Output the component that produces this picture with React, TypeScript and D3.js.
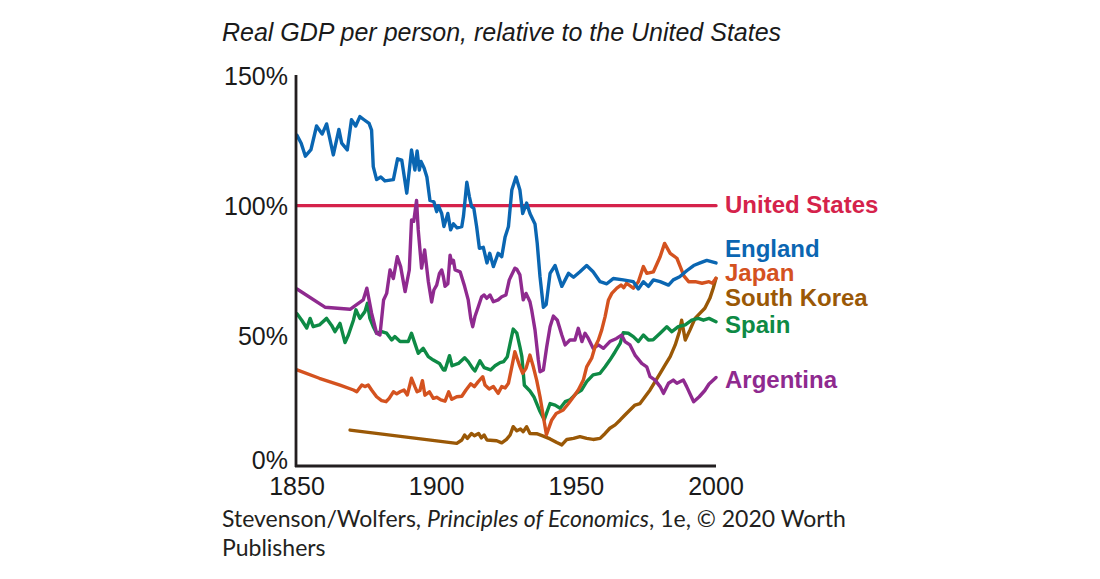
import React from "react";
import * as d3 from "d3";

type Pt = [number, number];

const yTicks = [0, 50, 100, 150];
const xTicks = [1850, 1900, 1950, 2000];

const titleText = "Real GDP per person, relative to the United States";

const usData: Pt[] = [[1850, 100], [2000, 100]];

const englandData: Pt[] = [
  [1850, 127], [1851.5, 124], [1853, 119], [1855, 121.5], [1857, 130.6], [1859, 127.5], [1860.6, 131.4],
  [1863, 119.5], [1865, 129.3], [1866, 124], [1868, 121.4], [1869.5, 133], [1871, 130.6], [1872.5, 134.2],
  [1874, 133], [1875.8, 131.6], [1876.7, 129], [1877.3, 115], [1878.5, 110], [1880, 111], [1881.5, 109.5],
  [1884.5, 110], [1886, 118], [1887.5, 117.5], [1889.3, 104.8], [1891, 121.4], [1892.2, 113.7], [1893, 121],
  [1893.8, 113.7], [1894.4, 117], [1895.5, 114.5], [1896.5, 111], [1897.6, 102], [1899, 101.5], [1900, 97.7],
  [1900.6, 100], [1901.8, 97], [1902.6, 92], [1904, 97], [1905, 90.7], [1906, 93], [1907.3, 91.5],
  [1909, 92], [1909.6, 96], [1910.8, 109], [1911.7, 103.5], [1912.5, 99.6], [1913.3, 99], [1914.3, 92],
  [1915.3, 83.6], [1916.7, 84], [1918, 78], [1919, 81.7], [1920.3, 76.6], [1922, 81.7], [1923.3, 80.4],
  [1924.5, 88], [1925.7, 92], [1926.9, 106], [1928.4, 111], [1929.8, 106], [1930.8, 97], [1932.2, 101],
  [1933.4, 97], [1935.2, 93], [1936, 85.5], [1937, 72.7], [1938.2, 61], [1939.2, 62], [1940.6, 74],
  [1942.4, 77], [1944.8, 69], [1947.2, 74], [1949, 72.5], [1951.3, 74.6], [1953.7, 77], [1956, 74.6],
  [1958.5, 70.8], [1960.9, 70], [1963.2, 72], [1966.8, 71.5], [1970.4, 70.8], [1972.2, 68], [1974, 70.8],
  [1975.8, 69], [1977.6, 71.5], [1980, 70.8], [1983, 69.5], [1984.7, 71.5], [1987, 72.7], [1989.5, 75],
  [1992, 77], [1994.3, 78], [1996.7, 79], [2000, 78],
];

const argentinaData: Pt[] = [
  [1850, 68], [1860, 61], [1869, 60.2], [1873.7, 63.8], [1875, 68.3], [1876.7, 58.7], [1878.5, 51],
  [1879.7, 50.3], [1881, 63.8], [1882.1, 66.3], [1883.3, 75.3], [1884.5, 72], [1885.9, 80.4], [1887.1, 76.6],
  [1888.7, 67], [1890.2, 75.3], [1891, 94.5], [1891.8, 94], [1892.8, 102], [1893.4, 90.7], [1894.6, 76],
  [1895.7, 83], [1897, 71], [1898.2, 63], [1899, 67.6], [1900, 69.5], [1901, 74], [1901.8, 75.3],
  [1902.4, 72.7], [1903, 69], [1904, 70], [1904.8, 81], [1905.4, 78], [1906, 79], [1906.6, 75.3],
  [1908.4, 74.6], [1910, 69], [1911.3, 63.8], [1912.2, 56.7], [1912.9, 53.5], [1913.7, 57.4], [1914.9, 61.2],
  [1916.1, 65], [1917, 65.7], [1917.9, 64.4], [1919.1, 65.7], [1920.3, 63.1], [1922, 63.8], [1923.3, 65],
  [1924.8, 65.7], [1926, 71.5], [1928, 76], [1928.7, 75.6], [1929.8, 73.4], [1931, 63.8], [1932, 66.3],
  [1933.4, 63.1], [1934, 60], [1935.2, 52.3], [1936.4, 40.7], [1937, 36.2], [1938.2, 36.9], [1939.4, 45.8],
  [1940.6, 53.5], [1941.8, 57.6], [1943.2, 56], [1944.8, 50.3], [1946, 46.5], [1947.7, 48.4], [1949.5, 48.4],
  [1950.7, 52.9], [1952, 47.8], [1953.1, 51], [1954.3, 49], [1956, 45.2], [1957.9, 46.5], [1959.7, 45.2],
  [1962, 47.8], [1964.4, 49], [1966.2, 50.3], [1967.4, 47.8], [1969.2, 46.5], [1971, 42.6], [1973.4, 39.4],
  [1975.2, 38.1], [1976.4, 34.3], [1978.2, 33], [1980, 30.5], [1981.2, 27.9], [1983, 31.8], [1984.7, 33],
  [1986, 31.8], [1988.3, 33], [1989.5, 30.5], [1992, 24.7], [1994, 26.6], [1996, 29], [1997.5, 31.5],
  [2000, 34],
];

const spainData: Pt[] = [
  [1850, 58.5], [1851.7, 56], [1853.5, 53], [1854.7, 56.7], [1855.8, 53.5], [1858, 54.2], [1860.6, 56.7],
  [1862.4, 54], [1863.6, 51.6], [1865.4, 54.8], [1867.2, 47.4], [1868.4, 50.3], [1870.2, 56], [1871.1, 60],
  [1872.5, 56.7], [1874.3, 59.3], [1875.2, 62.5], [1876.1, 56.7], [1877.3, 53.5], [1878.5, 51], [1880.3, 51.6],
  [1882.1, 51], [1883.9, 48.4], [1885, 49.7], [1886.9, 47.8], [1889.8, 47.8], [1891, 51], [1892.2, 47.1],
  [1893.4, 43.3], [1895.2, 45.2], [1897, 42], [1898.8, 40.7], [1901, 39.4], [1902.4, 36.9], [1903, 36.9],
  [1904.6, 42.4], [1905.5, 38.5], [1907.8, 39.4], [1910, 41.6], [1911.3, 40.1], [1912.9, 37.5], [1913.7, 36.5],
  [1915.5, 40.4], [1917, 37.8], [1919.3, 36.9], [1920.9, 38.5], [1922.7, 39.7], [1924, 40.1], [1925.3, 42],
  [1926.3, 47.1], [1927.4, 52.6], [1928.7, 51], [1929.8, 45.8], [1930.5, 42], [1931.4, 31], [1933.4, 28.8],
  [1934.9, 26.4], [1937, 20.9], [1938.5, 17.8], [1940.6, 24], [1942.4, 23.4], [1944.2, 22.2], [1946, 24.7],
  [1947.7, 25.4], [1950, 27.9], [1951.9, 29.2], [1953.7, 32.4], [1956, 35], [1958.5, 35.6], [1960.3, 38.1],
  [1962, 40.7], [1963.9, 43.9], [1965.7, 47.1], [1966.8, 51.2], [1968.6, 51], [1970.4, 49.7], [1972.2, 47.8],
  [1974, 50.3], [1975.8, 48.4], [1977.5, 48.5], [1980, 51], [1982.4, 53.5], [1984.2, 51.6], [1986.5, 53.5],
  [1989, 54.2], [1991.3, 56], [1993.7, 56.7], [1995.5, 56], [1997.5, 56.7], [2000, 55.4],
];

const japanData: Pt[] = [
  [1850, 36.9], [1858, 33.7], [1865.4, 31.1], [1870.2, 29.2], [1871.4, 28.5], [1873.2, 31.1], [1874.3, 30.5],
  [1875.5, 31.1], [1876.7, 29.2], [1878.5, 26.6], [1880.3, 25.1], [1881.9, 24.7], [1883, 26], [1884.5, 28.5],
  [1885.7, 27.7], [1886.9, 28.5], [1888.3, 29.2], [1889.5, 27.3], [1891, 33.7], [1892.2, 30.5], [1893, 28.5],
  [1894, 29], [1894.9, 32.8], [1895.8, 27.2], [1897.4, 28.5], [1898.8, 26], [1900, 26.4], [1901.5, 25.4],
  [1903, 24.9], [1904.3, 28.5], [1905.4, 25.6], [1907.2, 26.6], [1909, 26.8], [1910.5, 29.2], [1912.2, 31.6],
  [1913.5, 30.5], [1914.9, 32.4], [1916.5, 34.3], [1917.3, 31.1], [1918.8, 29.6], [1920.3, 30.5], [1922, 27.9],
  [1923.3, 30.5], [1924.5, 30], [1925.7, 31.8], [1926.9, 38.1], [1928, 43.9], [1929.6, 38.8], [1930.8, 35.6],
  [1932, 37.5], [1933.4, 42.6], [1934.6, 38.1], [1935.8, 33], [1937, 26.6], [1938.2, 18.9], [1939.3, 12],
  [1941.2, 17.7], [1942.8, 20.2], [1945.3, 21.5], [1947.2, 24], [1949, 26.6], [1950.7, 29.2], [1952.5, 33],
  [1953.7, 38.1], [1955.5, 41.4], [1956.7, 45.8], [1957.9, 48.4], [1959.1, 52.3], [1960.3, 57.4], [1961.5, 63.8],
  [1962.7, 66.3], [1964.5, 68.3], [1966, 69.5], [1967, 68.5], [1968, 70.2], [1970.4, 68.3], [1972.2, 70.8],
  [1974, 76.6], [1975.2, 74], [1977.6, 74.6], [1980, 80.4], [1981.6, 85.5], [1983.6, 81.7], [1986, 79.8],
  [1987.2, 76.6], [1988.5, 73], [1990.2, 70.8], [1992.6, 70.8], [1995, 70.2], [1997.5, 70.8], [1998.7, 70.2],
  [2000, 72.1],
];

const koreaData: Pt[] = [
  [1869, 13.8], [1907.2, 8.7], [1909, 10], [1910, 11.9], [1911, 10.6], [1912.5, 12.5], [1913.5, 11.6],
  [1915, 12.5], [1916, 10.8], [1917, 11.9], [1918, 10], [1921.5, 9.7], [1923.3, 8.9], [1925, 10.2],
  [1926.3, 11.9], [1927.4, 15.1], [1928.7, 13.5], [1930, 14.2], [1931, 13.2], [1932.2, 15.1], [1933.4, 12.5],
  [1935.8, 12.4], [1938.2, 11.5], [1940.6, 10.4], [1943, 9], [1944.8, 8.1], [1946.6, 10.2], [1949, 10.6],
  [1951.3, 11.3], [1953.7, 10.6], [1956, 10.2], [1958.5, 10.6], [1960.3, 12.5], [1962, 14.5], [1963.9, 15.8],
  [1965.7, 17.7], [1967.4, 19.6], [1969.2, 21.5], [1971, 23.4], [1972.8, 24], [1974.6, 26.6], [1976.4, 29.2],
  [1978.2, 32.4], [1980, 35.6], [1981.8, 38.8], [1983.6, 42], [1985.4, 46.5], [1986.9, 51.6], [1987.7, 56],
  [1989, 48.4], [1990.7, 52.3], [1992.5, 56.7], [1994.3, 58.7], [1996, 60.6], [1997.8, 64.4], [1999, 68.3],
  [2000, 72.1],
];

const seriesNames = ["United States", "England", "Japan", "South Korea", "Spain", "Argentina"];
const seriesColors = ["#d5224b", "#0a66b2", "#d4521f", "#9a5806", "#0e8a45", "#8f2a8f"];
const seriesData = [usData, englandData, japanData, koreaData, spainData, argentinaData];
const labelBaselines = [213, 257, 281, 306, 333, 388];
const drawOrder = [0, 3, 4, 5, 2, 1];

export default function App() {
  const width = 1100;
  const height = 579;
  const x = d3.scaleLinear().domain([1850, 2000]).range([297, 716]);
  const y = d3.scaleLinear().domain([0, 150]).range([466, 75.5]);
  const line = d3
    .line<Pt>()
    .x((d) => x(d[0]))
    .y((d) => y(d[1]));
  const sans = "'Liberation Sans', Arial, Helvetica, sans-serif";
  const footFont = "Lato, 'Open Sans', sans-serif";

  return (
    <div style={{ position: "absolute", left: 0, top: 0 }}>
      <svg width={width} height={height} style={{ display: "block", background: "#fff" }}>
        <text x={222} y={41} fontFamily={sans} fontStyle="italic" fontSize={25} fill="#1a1a1a">
          {titleText}
        </text>

        {yTicks.map((t) => (
          <text
            key={t}
            x={288}
            y={Math.min(y(t) + 9, 469)}
            textAnchor="end"
            fontFamily={sans}
            fontSize={25}
            fill="#1a1a1a"
          >
            {t}%
          </text>
        ))}
        {xTicks.map((t) => (
          <text key={t} x={x(t)} y={495} textAnchor="middle" fontFamily={sans} fontSize={25} fill="#1a1a1a">
            {t}
          </text>
        ))}

        {drawOrder.map((i) => (
          <path
            key={seriesNames[i]}
            d={line(seriesData[i]) || ""}
            fill="none"
            stroke={seriesColors[i]}
            strokeWidth={3.4}
            strokeLinejoin="round"
            strokeLinecap="round"
          />
        ))}

        <line x1={296} x2={296} y1={75} y2={467} stroke="#231f20" strokeWidth={2.8} />
        <line x1={295} x2={716} y1={466} y2={466} stroke="#231f20" strokeWidth={2.8} />

        {seriesNames.map((n, i) => (
          <text
            key={n}
            x={725}
            y={labelBaselines[i]}
            fontFamily={sans}
            fontWeight="bold"
            fontSize={24}
            fill={seriesColors[i]}
          >
            {n}
          </text>
        ))}

        <text x={222} y={527} fontFamily={footFont} fontSize={23} fill="#231f20">
          Stevenson/Wolfers, <tspan fontStyle="italic">Principles of Economics</tspan>, 1e, © 2020 Worth
        </text>
        <text x={222} y={556} fontFamily={footFont} fontSize={23} fill="#231f20">
          Publishers
        </text>
      </svg>
    </div>
  );
}
